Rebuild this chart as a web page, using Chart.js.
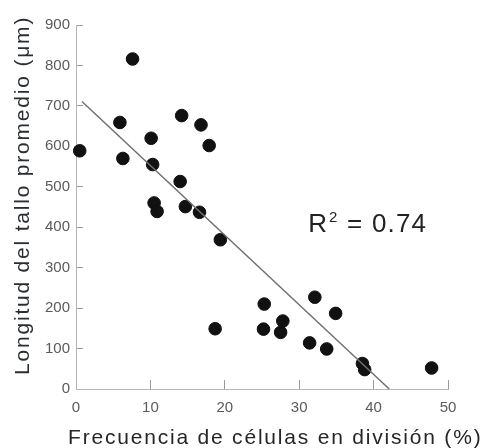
<!DOCTYPE html>
<html>
<head>
<meta charset="utf-8">
<script src="https://cdn.jsdelivr.net/npm/chart.js@4/dist/chart.umd.min.js"></script>
<style>
  html, body { margin: 0; padding: 0; background: #fff; }
  #wrap { width: 486px; height: 448px; }
</style>
</head>
<body>
<div id="wrap"><canvas id="c" width="486" height="448"></canvas></div>
<script>
// Dividing-cell frequency (%) vs. mean stem length (µm)
const divisionFreq = [0.5, 7.6, 5.9, 6.3, 10.1, 10.3, 14.2, 16.8, 17.9, 14.0, 10.5, 10.9, 14.7, 16.6, 19.4, 18.7, 25.3, 25.2, 27.8, 27.5, 32.1, 34.9, 31.4, 33.7, 38.5, 38.8, 47.8];
const stemLength   = [589, 816, 659, 570, 620, 555, 676, 653, 602, 513, 460, 439, 451, 437, 369, 149, 210, 148, 168, 140, 227, 187, 114,  99,  63,  48,  52];

// Linear fit drawn between its two end points
const fitX = [0.8, 42.1];
const fitY = [711, 0];

const xTicks = [0, 10, 20, 30, 40, 50];
const yTicks = [0, 100, 200, 300, 400, 500, 600, 700, 800, 900];

const xTitle = 'Frecuencia de células en división (%)';
const yTitle = 'Longitud del tallo promedio (μm)';
const r2Label = '0.74';

// Axis titles and the R² note
const textPlugin = {
  id: 'texts',
  afterDraw(chart) {
    const ctx = chart.ctx;
    const { x, y } = chart.scales;
    ctx.save();
    ctx.fillStyle = '#262626';
    ctx.font = '21px "Liberation Sans", Arial, sans-serif';
    ctx.letterSpacing = '1.8px';
    ctx.textBaseline = 'alphabetic';
    ctx.textAlign = 'left';
    ctx.fillText(xTitle, 68, 444);

    ctx.save();
    ctx.translate(29, 375);
    ctx.rotate(-Math.PI / 2);
    ctx.fillStyle = '#2a2e33';
    ctx.fillText(yTitle, 0, 0);
    ctx.restore();

    // R² = 0.74 placed in data space
    const px = x.getPixelForValue(31.2);
    const py = y.getPixelForValue(389);
    ctx.fillStyle = '#222';
    ctx.letterSpacing = '1.2px';
    ctx.font = '26px "Liberation Sans", Arial, sans-serif';
    ctx.fillText('R', px, py);
    let w = ctx.measureText('R').width;
    ctx.font = '15px "Liberation Sans", Arial, sans-serif';
    ctx.fillText('2', px + w + 1, py - 10);
    w += ctx.measureText('2').width + 1;
    ctx.font = '26px "Liberation Sans", Arial, sans-serif';
    ctx.fillText(' = ' + r2Label, px + w, py);
    ctx.restore();
  }
};

const tickFont = { family: '"Liberation Sans Narrow", "Liberation Sans", Arial, sans-serif', size: 15 };

new Chart(document.getElementById('c'), {
  type: 'scatter',
  data: {
    datasets: [
      {
        label: 'fit',
        type: 'line',
        data: fitX.map((v, i) => ({ x: v, y: fitY[i] })),
        borderColor: '#707070',
        borderWidth: 1.5,
        pointRadius: 0,
        fill: false,
        clip: false
      },
      {
        label: 'data',
        data: divisionFreq.map((v, i) => ({ x: v, y: stemLength[i] })),
        backgroundColor: '#111',
        borderColor: '#111',
        pointRadius: 6.3,
        pointHoverRadius: 6.3,
        clip: false
      }
    ]
  },
  options: {
    responsive: false,
    animation: false,
    events: [],
    layout: { padding: { top: 25, right: 38, left: 0, bottom: 0 } },
    plugins: { legend: { display: false }, tooltip: { enabled: false } },
    scales: {
      x: {
        type: 'linear',
        min: 0, max: 50,
        afterFit(s) { s.height = 59; },
        afterBuildTicks(s) { s.ticks = xTicks.map(v => ({ value: v })); },
        grid: { drawOnChartArea: false, tickLength: -9, color: '#9a9a9a', lineWidth: 1 },
        border: { color: '#b5b5b5', dash: [2, 2], width: 1 },
        ticks: { padding: 19, color: '#5a5a5a', font: tickFont, maxRotation: 0 }
      },
      y: {
        type: 'linear',
        min: 0, max: 900,
        afterFit(s) { s.width = 76; },
        afterBuildTicks(s) { s.ticks = yTicks.map(v => ({ value: v })); },
        grid: { drawOnChartArea: false, tickLength: -7, color: '#9a9a9a', lineWidth: 1 },
        border: { color: '#b5b5b5', dash: [2, 2], width: 1 },
        ticks: { padding: 13, color: '#5a5a5a', font: tickFont }
      }
    }
  },
  plugins: [textPlugin]
});
</script>
</body>
</html>
